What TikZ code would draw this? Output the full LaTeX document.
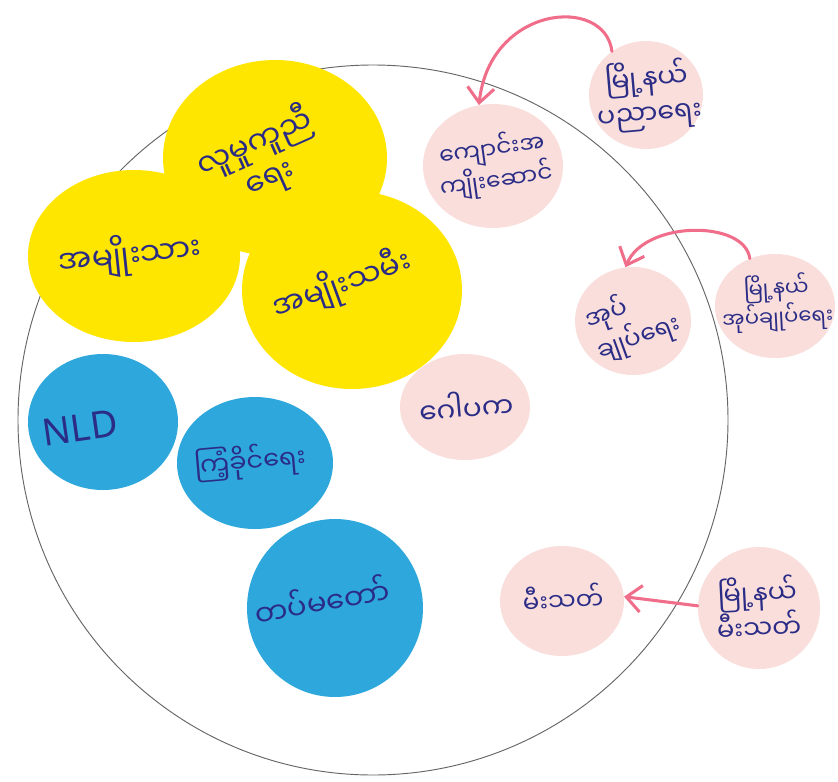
\documentclass[tikz,border=0pt]{standalone}
\usepackage{fontspec}
\newfontfamily\my[Script=Myanmar]{Noto Sans Myanmar UI}
\newfontfamily\lat{Noto Sans}
\usetikzlibrary{shapes.geometric,arrows.meta}
\definecolor{yel}{HTML}{FFE600}
\definecolor{blu}{HTML}{2EA8DC}
\definecolor{pnk}{HTML}{F9DEDC}
\definecolor{arr}{HTML}{F06E8A}
\definecolor{ink}{HTML}{2A2C86}
\newcommand\myfs[2]{\my\fontsize{#1}{#2}\selectfont}
\tikzset{
  blob/.style n args={2}{ellipse, inner sep=0pt, minimum width=#1*0.06cm, minimum height=#2*0.06cm},
  ybl/.style={fill=yel, draw=none},
  bbl/.style={fill=blu, draw=none},
  pbl/.style={fill=pnk, draw=none},
  lbl/.style={text=ink, align=center, inner sep=0pt},
  conn/.style={draw=arr, line width=2.6pt, line cap=round, -{Straight Barb[length=4.5mm,width=8mm,line width=2.6pt]}},
  rim/.style={draw=black!60, line width=0.8pt}
}
\begin{document}
\begin{tikzpicture}[x=0.03cm,y=-0.03cm]
\useasboundingbox (0,0) rectangle (838,781);
\fill[white] (0,0) rectangle (838,781);
% big circle
\node[rim, circle, minimum size=710*0.03cm, inner sep=0pt] (big) at (373,420) {};
% yellow
\node[ybl, blob={112}{98}] (y1) at (275,158) {};
\node[ybl, blob={106}{86}] (y2) at (134,256) {};
\node[ybl, blob={110}{99}] (y3) at (352,290) {};
% blue
\node[bbl, blob={75}{68}] (b1) at (103,422) {};
\node[bbl, blob={78}{66}] (b2) at (255,463) {};
\node[bbl, blob={88}{89}] (b3) at (335,608) {};
% pink
\node[pbl, blob={57}{54}] (p1) at (646,95) {};
\node[pbl, blob={70}{62}] (p2) at (493,166) {};
\node[pbl, blob={58}{54}] (p3) at (633,321) {};
\node[pbl, blob={60}{52}] (p4) at (775,306) {};
\node[pbl, blob={65}{53}] (p5) at (465,407) {};
\node[pbl, blob={62}{55}] (p6) at (562,601) {};
\node[pbl, blob={61}{61}] (p7) at (759,608) {};
% labels
\node[lbl, font=\myfs{26}{32}, rotate=24] (ty1) at (262,160) {လူမှုကူညီ\\ရေး};
\node[lbl, font=\myfs{27}{32}, rotate=6] (ty2) at (130,255) {အမျိုးသား};
\node[lbl, font=\myfs{26}{32}, rotate=20] (ty3) at (342,285) {အမျိုးသမီး};
\node[lbl, font=\lat\fontsize{32}{36}\selectfont, rotate=8] (tb1) at (80,428) {NLD};
\node[lbl, font=\myfs{22}{28}, rotate=5] (tb2) at (250,462) {ကြံ့ခိုင်ရေး};
\node[lbl, font=\myfs{25}{30}, rotate=10] (tb3) at (322,600) {တပ်မတော်};
\node[lbl, font=\myfs{23}{30}, rotate=5] (tp1) at (648,96) {မြို့နယ်\\ပညာရေး};
\node[lbl, font=\myfs{20}{27}, rotate=8] (tp2) at (494,165) {ကျောင်းအ\\ကျိုးဆောင်};
\node[lbl, font=\myfs{21}{28}, rotate=20, align=left] (tp3) at (633,322) {အုပ်\\ချုပ်ရေး};
\node[lbl, font=\myfs{18}{25}, rotate=3] (tp4) at (777,303) {မြို့နယ်\\အုပ်ချုပ်ရေး};
\node[lbl, font=\myfs{24}{30}, rotate=5] (tp5) at (466,406) {ဂေါပက};
\node[lbl, font=\myfs{21}{26}, rotate=3] (tp6) at (563,598) {မီးသတ်};
\node[lbl, font=\myfs{22}{28}, rotate=3] (tp7) at (758,608) {မြို့နယ်\\မီးသတ်};
% connectors
\draw[conn] (p1.128) .. controls (605,-5) and (490,5) .. (p2.103);
\draw[conn] (p4.118) .. controls (745,220) and (645,220) .. (p3.98);
\draw[conn] (p7.178) -- (p6.4);
\end{tikzpicture}
\end{document}
